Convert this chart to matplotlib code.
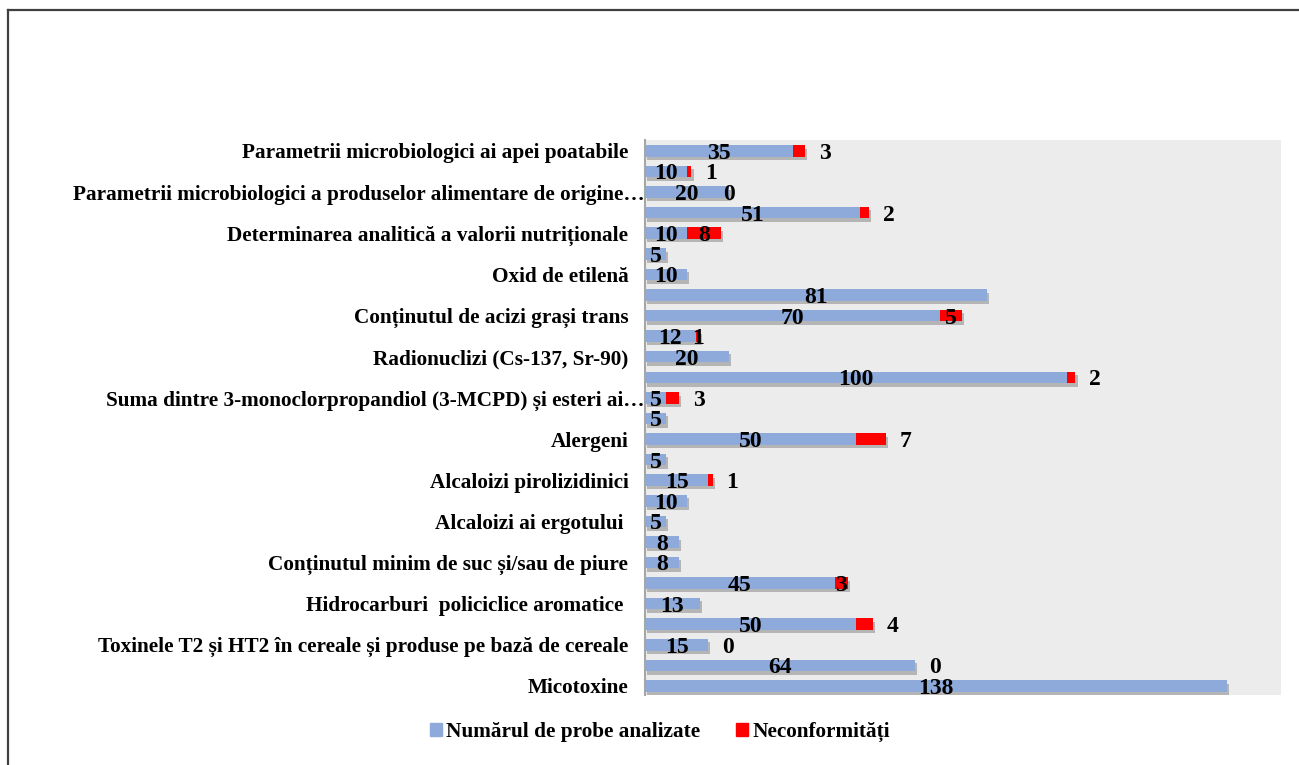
import numpy as np
import matplotlib
matplotlib.use("Agg")
import matplotlib.pyplot as plt
import matplotlib.patheffects as pe
from matplotlib.patches import Patch
from matplotlib.lines import Line2D
from matplotlib.transforms import ScaledTranslation

# categories, top to bottom (every other one has no visible label)
labels = [
    "Parametrii microbiologici ai apei poatabile", "",
    "Parametrii microbiologici a produselor alimentare de origine…", "",
    "Determinarea analitică a valorii nutriționale", "",
    "Oxid de etilenă", "",
    "Conținutul de acizi grași trans", "",
    "Radionuclizi (Cs-137, Sr-90)", "",
    "Suma dintre 3-monoclorpropandiol (3-MCPD) și esteri ai…", "",
    "Alergeni", "",
    "Alcaloizi pirolizidinici", "",
    "Alcaloizi ai ergotului ", "",
    "Conținutul minim de suc și/sau de piure", "",
    "Hidrocarburi  policiclice aromatice ", "",
    "Toxinele T2 și HT2 în cereale și produse pe bază de cereale", "",
    "Micotoxine",
]
samples = [35, 10, 20, 51, 10, 5, 10, 81, 70, 12, 20, 100, 5, 5,
           50, 5, 15, 10, 5, 8, 8, 45, 13, 50, 15, 64, 138]
nan = np.nan
nonconf = [3, 1, 0, 2, 8, nan, nan, nan, 5, 1, nan, 2, 3, nan,
           7, nan, 1, nan, nan, nan, nan, 3, nan, 4, 0, 0, nan]

# where the red value label sits: inside the segment or after the bar end
red_inside = [False, False, True, False, True, False, False, False, True, True,
              False, False, False, False, False, False, False, False, False, False,
              False, True, False, False, False, False, False]

blue = "#8eaadb"
red = "#ff0000"
font = "Liberation Serif"

fig = plt.figure(figsize=(12.99, 7.65), dpi=100)
ax = fig.add_axes([645 / 1299, 1 - 695 / 765, 636 / 1299, 555 / 765])
ax.set_facecolor("#ececec")

y = np.arange(len(samples))
nc = np.nan_to_num(np.array(nonconf, dtype=float))
shadow = [pe.SimplePatchShadow(offset=(1.5, -2.5), shadow_rgbFace="#808080", alpha=0.5), pe.Normal()]

b1 = ax.barh(y, samples, height=0.56, color=blue, path_effects=shadow, zorder=2)
b2 = ax.barh(y, nc, left=samples, height=0.56, color=red, path_effects=shadow, zorder=2)

for i, v in enumerate(samples):
    ax.text(v / 2, i + 0.12, str(v), ha="center", va="center", fontsize=17,
            fontweight="bold", family=font, zorder=3)
    r = nonconf[i]
    if not np.isnan(r):
        if red_inside[i]:
            xr = v + r / 2
        else:
            xr = v + r + 4.7
        ax.text(xr, i + 0.12, str(int(r)), ha="center", va="center", fontsize=17,
                fontweight="bold", family=font, zorder=3)

ax.set_xlim(0, 150.7)
ax.set_ylim(26.44, -0.53)
ax.set_xticks([])
ax.set_yticks(y)
ax.set_yticklabels(labels, fontsize=15.3, fontweight="bold", family=font)
ax.tick_params(axis="y", length=0, pad=12)
for s in ["top", "right", "bottom"]:
    ax.spines[s].set_visible(False)
ax.spines["left"].set_color("#a6a6a6")
ax.spines["left"].set_linewidth(1.5)

# the truncated labels run up to the axis
shift = ScaledTranslation(16 / 100, 0, fig.dpi_scale_trans)
for lab in ax.get_yticklabels():
    if lab.get_text().endswith("…"):
        lab.set_transform(lab.get_transform() + shift)

handles = [Patch(color=blue, label="Numărul de probe analizate"),
           Patch(color=red, label="Neconformități")]
fig.legend(handles=handles, loc="center", bbox_to_anchor=(660 / 1299, 1 - 732 / 765),
           ncol=2, frameon=False, handlelength=0.55, handleheight=0.55,
           handletextpad=0.2, columnspacing=1.7,
           prop={"family": font, "weight": "bold", "size": 15.3})

# outer frame of the chart
fig.add_artist(Line2D([8 / 1299, 8 / 1299], [0, 1 - 10 / 765], color="#404040", lw=1.6))
fig.add_artist(Line2D([8 / 1299, 1], [1 - 10 / 765, 1 - 10 / 765], color="#404040", lw=1.6))

fig.savefig("out.png", dpi=100)
